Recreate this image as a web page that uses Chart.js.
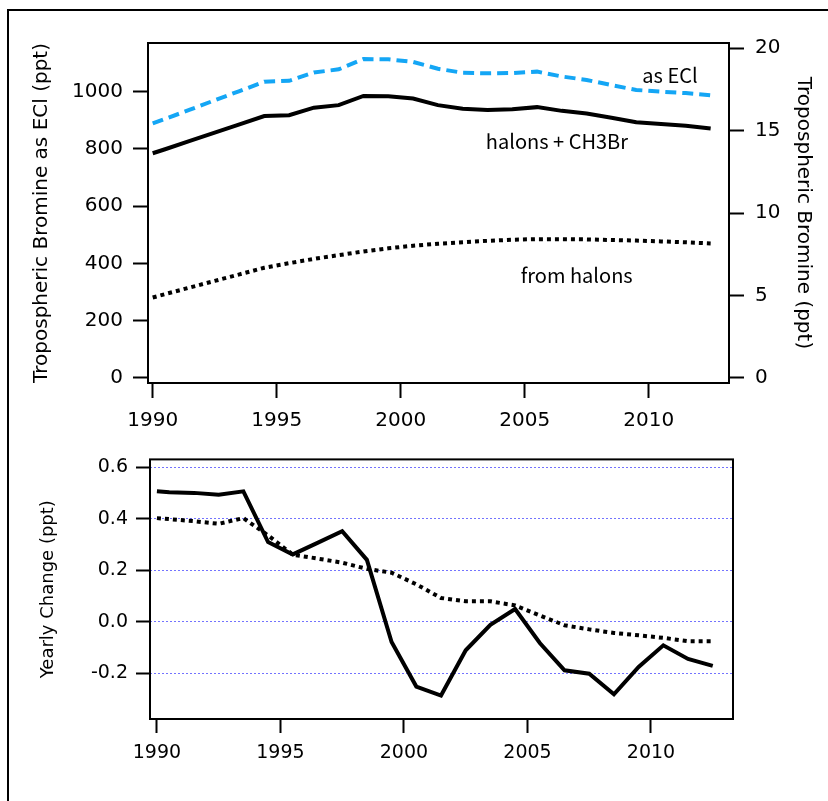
<!DOCTYPE html>
<html>
<head>
<meta charset="utf-8">
<script src="https://cdn.jsdelivr.net/npm/chart.js@4.4.1/dist/chart.umd.min.js"></script>
<style>
  html, body { margin: 0; padding: 0; background: #fff; }
  body { width: 828px; height: 801px; position: relative; overflow: hidden; }
  #frame { position: absolute; left: 7px; top: 9px; width: 900px; height: 900px; border: 2px solid #000; box-sizing: border-box; }
  .panel { position: absolute; left: 0; width: 828px; }
  #topPanel { top: 0; height: 440px; }
  #bottomPanel { top: 440px; height: 361px; }
</style>
</head>
<body>
<div id="frame"></div>
<div class="panel" id="topPanel"><canvas id="bromineChart" width="828" height="440"></canvas></div>
<div class="panel" id="bottomPanel"><canvas id="changeChart" width="828" height="361"></canvas></div>
<script>
// ===== Data =====
const years = [1990, 1990.5, 1991.5, 1992.5, 1993.5, 1994.5, 1995.5, 1996.5, 1997.5, 1998.5, 1999.5, 2000.5,
               2001.5, 2002.5, 2003.5, 2004.5, 2005.5, 2006.5, 2007.5, 2008.5, 2009.5, 2010.5, 2011.5, 2012.5];

// tropospheric bromine as ECl (ppt)
const asECl = [889, 905, 937, 970, 1002, 1035, 1038, 1067, 1078, 1114, 1113, 1104,
               1080, 1066, 1064, 1065, 1070, 1053, 1041, 1023, 1006, 1000, 995, 987];
const halonsCH3Br = [785, 799, 828, 857, 886, 915, 918, 944, 953, 985, 984, 976,
                     953, 940, 936, 939, 946, 933, 924, 909, 893, 887, 881, 871];
const fromHalons = [281, 293, 316, 339, 362, 385, 401, 416, 429, 442, 453, 462,
                    469, 474, 479, 483, 485, 485, 484, 482, 480, 477, 474, 470];

// yearly change (ppt)
const changeTotal = [0.506, 0.502, 0.500, 0.493, 0.506, 0.309, 0.261, 0.306, 0.351, 0.240, -0.079, -0.252,
                     -0.287, -0.111, -0.012, 0.049, -0.083, -0.189, -0.202, -0.282, -0.176, -0.092, -0.145, -0.172];
const changeHalons = [0.402, 0.398, 0.390, 0.380, 0.402, 0.335, 0.260, 0.245, 0.229, 0.205, 0.190, 0.145,
                      0.092, 0.079, 0.079, 0.063, 0.024, -0.014, -0.030, -0.044, -0.053, -0.063, -0.076, -0.076];

const seriesNames = ['as ECl', 'halons + CH3Br', 'from halons'];
const yearTicks = [1990, 1995, 2000, 2005, 2010];
const eclTicks = [0, 200, 400, 600, 800, 1000];
const bromineTicks = [0, 5, 10, 15, 20];
const changeTicks = [-0.2, 0, 0.2, 0.4, 0.6];

const ECL_PER_BR = 57.6; // right axis is the left one divided by this

Chart.defaults.font.family = "'DejaVu Sans', sans-serif";
Chart.defaults.color = '#000';

const pts = ys => years.map((x, i) => ({ x: x, y: ys[i] }));
const fixedTicks = list => scale => { scale.ticks = list.map(v => ({ value: v })); };

// box round the plot area
const plotFrame = {
  id: 'plotFrame',
  afterDraw(chart) {
    const { ctx, chartArea: a } = chart;
    ctx.save();
    ctx.strokeStyle = '#000';
    ctx.lineWidth = 2;
    ctx.strokeRect(a.left, a.top, a.right - a.left, a.bottom - a.top);
    ctx.restore();
  }
};

// curve names written inside the plot
const seriesText = {
  id: 'seriesText',
  afterDatasetsDraw(chart, args, opts) {
    if (!opts.items) return;
    const { ctx } = chart;
    const xs = chart.scales.x, ys = chart.scales.y;
    ctx.save();
    ctx.font = opts.font;
    ctx.fillStyle = '#000';
    ctx.textAlign = 'center';
    ctx.textBaseline = 'middle';
    opts.items.forEach(it => ctx.fillText(it.text, xs.getPixelForValue(it.x), ys.getPixelForValue(it.y)));
    ctx.restore();
  }
};

const tickGrid = len => ({ drawOnChartArea: false, tickLength: len, tickWidth: 2, tickColor: '#000' });

// ===== Top panel: tropospheric bromine =====
new Chart(document.getElementById('bromineChart'), {
  type: 'line',
  data: {
    datasets: [
      { label: seriesNames[0], data: pts(asECl), borderColor: '#14a6f5', borderWidth: 4, borderDash: [11, 6] },
      { label: seriesNames[1], data: pts(halonsCH3Br), borderColor: '#000', borderWidth: 4 },
      { label: seriesNames[2], data: pts(fromHalons), borderColor: '#000', borderWidth: 4, borderDash: [4, 4] }
    ]
  },
  options: {
    responsive: false,
    animation: false,
    layout: { padding: { top: 43, left: 0, right: 0, bottom: 0 } },
    elements: { point: { radius: 0 }, line: { tension: 0, borderCapStyle: 'butt', fill: false } },
    plugins: {
      legend: { display: false },
      tooltip: { enabled: false },
      seriesText: {
        font: "20px 'Noto Sans CJK JP', sans-serif",
        items: [
          { text: seriesNames[0], x: 2010.86, y: 1058 },
          { text: seriesNames[1], x: 2006.3, y: 825 },
          { text: seriesNames[2], x: 2007.1, y: 360 }
        ]
      }
    },
    scales: {
      x: {
        type: 'linear', min: 1989.81, max: 2013.24,
        afterBuildTicks: fixedTicks(yearTicks),
        afterFit: s => { s.height = 57; },
        ticks: { callback: v => String(v), padding: 11, font: { size: 20 }, maxRotation: 0, autoSkip: false },
        grid: tickGrid(15),
        border: { display: false }
      },
      y: {
        type: 'linear', position: 'left', min: -17.5, max: 1170,
        afterBuildTicks: fixedTicks(eclTicks),
        afterFit: s => { s.width = 148; },
        ticks: { callback: v => String(v), padding: 10, font: { size: 20 }, autoSkip: false },
        grid: tickGrid(15),
        border: { display: false },
        title: { display: true, text: 'Tropospheric Bromine as ECl (ppt)', font: { size: 20 }, padding: { top: 30, bottom: 0 } }
      },
      y2: {
        type: 'linear', position: 'right', display: true,
        min: -17.5 / ECL_PER_BR, max: 1170 / ECL_PER_BR,
        afterBuildTicks: fixedTicks(bromineTicks),
        afterFit: s => { s.width = 99; },
        ticks: { callback: v => String(v), padding: 11, font: { size: 20 }, autoSkip: false },
        grid: tickGrid(15),
        border: { display: false },
        title: { display: true, text: 'Tropospheric Bromine (ppt)', font: { size: 20 }, padding: { top: 13, bottom: 0 } }
      }
    }
  },
  plugins: [plotFrame, seriesText]
});

// ===== Bottom panel: yearly change =====
new Chart(document.getElementById('changeChart'), {
  type: 'line',
  data: {
    datasets: [
      { label: 'halons + CH3Br', data: pts(changeTotal), borderColor: '#000', borderWidth: 4 },
      { label: 'from halons', data: pts(changeHalons), borderColor: '#000', borderWidth: 4, borderDash: [4, 4] }
    ]
  },
  options: {
    responsive: false,
    animation: false,
    layout: { padding: { top: 19, left: 0, right: 95, bottom: 0 } },
    elements: { point: { radius: 0 }, line: { tension: 0, borderCapStyle: 'butt', fill: false } },
    plugins: { legend: { display: false }, tooltip: { enabled: false } },
    scales: {
      x: {
        type: 'linear', min: 1989.72, max: 2013.32,
        afterBuildTicks: fixedTicks(yearTicks),
        afterFit: s => { s.height = 82; },
        ticks: { callback: v => String(v), padding: 9, font: { size: 19 }, maxRotation: 0, autoSkip: false },
        grid: tickGrid(14),
        border: { display: false }
      },
      y: {
        type: 'linear', position: 'left', min: -0.378, max: 0.63,
        afterBuildTicks: fixedTicks(changeTicks),
        afterFit: s => { s.width = 150; },
        ticks: { callback: v => v.toFixed(1), padding: 8, font: { size: 19 }, autoSkip: false },
        grid: { drawOnChartArea: true, color: 'rgba(100, 100, 255, 0.9)', lineWidth: 1, tickLength: 14, tickWidth: 2, tickColor: '#000' },
        border: { display: false, dash: [2, 2] },
        title: { display: true, text: 'Yearly Change (ppt)', font: { size: 18 }, padding: { top: 38, bottom: 0 } }
      }
    }
  },
  plugins: [plotFrame]
});
</script>
</body>
</html>
